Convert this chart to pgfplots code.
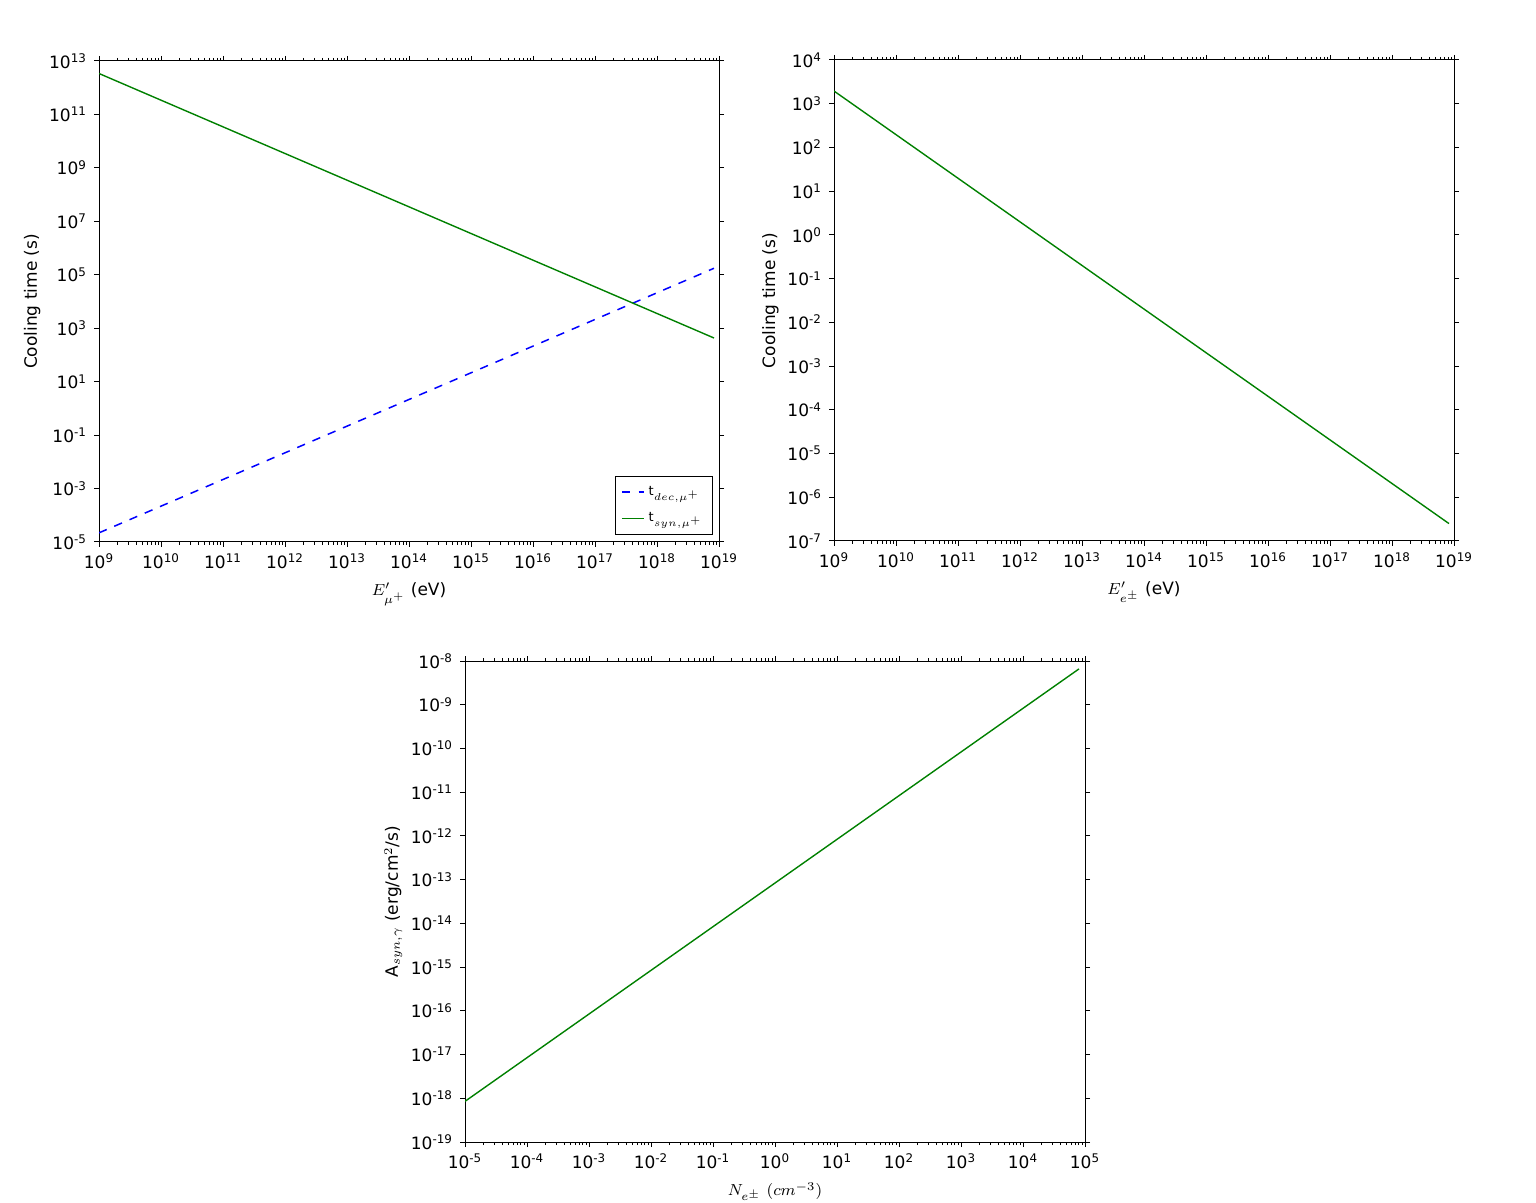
\documentclass[border=0pt]{standalone}
\usepackage{fontspec}
\setmainfont{DejaVu Sans}
\usepackage{pgfplots}
\pgfplotsset{compat=1.18}
\definecolor{mplgreen}{rgb}{0,0.5,0}
\definecolor{mplblue}{rgb}{0,0,1}
\newcommand{\tp}[1]{10\textsuperscript{#1}}
\pgfplotsset{
  myax/.style={
    scale only axis, width=310pt, height=240.5pt,
    axis line style={line width=0.5pt, black},
    tick align=outside, major tick length=2.5pt, minor tick length=1.5pt,
    every tick/.style={black, line width=0.5pt},
    yminorticks=false,
    ticklabel style={font=\fontsize{8.5}{10}\selectfont},
    label style={font=\fontsize{8.5}{10}\selectfont},
    ylabel style={yshift=-2.5pt},
  },
  gline/.style={color=mplgreen, line width=0.7pt, no marks},
}
\begin{document}
\begin{tikzpicture}
\useasboundingbox (0,0) rectangle (768pt,601.5pt);
% Panel 1
\begin{loglogaxis}[myax, at={(49.5pt,330.5pt)}, anchor=south west,
  xmin=1e9, xmax=1e19, ymin=1e-5, ymax=1e13,
  xtick={1e9,1e10,1e11,1e12,1e13,1e14,1e15,1e16,1e17,1e18,1e19},
  xticklabels={\tp{9},\tp{10},\tp{11},\tp{12},\tp{13},\tp{14},\tp{15},\tp{16},\tp{17},\tp{18},\tp{19}},
  ytick={1e-5,1e-3,1e-1,1e1,1e3,1e5,1e7,1e9,1e11,1e13},
  yticklabels={\tp{-5},\tp{-3},\tp{-1},\tp{1},\tp{3},\tp{5},\tp{7},\tp{9},\tp{11},\tp{13}},
  xlabel={$E'_{\mu^+}$ (eV)}, ylabel={Cooling time (s)},
  legend style={at={(rel axis cs:0.99,0.015)}, anchor=south east, draw=black, line width=0.5pt,
    font=\fontsize{6.5}{8}\selectfont, inner xsep=3pt, inner ysep=3pt, row sep=3pt},
  legend cell align=left,
  legend image code/.code={\draw[#1] (0pt,0pt) -- (11pt,0pt);},
]
\addplot[color=mplblue, line width=0.75pt, dash pattern=on 4.2pt off 4.1pt, no marks] coordinates {(1e9,2.2e-5) (8.3e18,1.75e5)};
\addlegendentry{t$_{dec,\mu^+}$}
\addplot[gline] coordinates {(1e9,3.4e12) (8.3e18,4.3e2)};
\addlegendentry{t$_{syn,\mu^+}$}
\end{loglogaxis}
% Panel 2
\begin{loglogaxis}[myax, at={(417pt,331pt)}, anchor=south west,
  xmin=1e9, xmax=1e19, ymin=1e-7, ymax=1e4,
  xtick={1e9,1e10,1e11,1e12,1e13,1e14,1e15,1e16,1e17,1e18,1e19},
  xticklabels={\tp{9},\tp{10},\tp{11},\tp{12},\tp{13},\tp{14},\tp{15},\tp{16},\tp{17},\tp{18},\tp{19}},
  ytick={1e-7,1e-6,1e-5,1e-4,1e-3,1e-2,1e-1,1e0,1e1,1e2,1e3,1e4},
  yticklabels={\tp{-7},\tp{-6},\tp{-5},\tp{-4},\tp{-3},\tp{-2},\tp{-1},\tp{0},\tp{1},\tp{2},\tp{3},\tp{4}},
  xlabel={$E'_{e^\pm}$ (eV)}, ylabel={Cooling time (s)},
]
\addplot[gline] coordinates {(1e9,1.95e3) (8.3e18,2.5e-7)};
\end{loglogaxis}
% Panel 3
\begin{loglogaxis}[myax, at={(232.5pt,30.5pt)}, anchor=south west,
  xmin=1e-5, xmax=1e5, ymin=1e-19, ymax=1e-8,
  xtick={1e-5,1e-4,1e-3,1e-2,1e-1,1e0,1e1,1e2,1e3,1e4,1e5},
  xticklabels={\tp{-5},\tp{-4},\tp{-3},\tp{-2},\tp{-1},\tp{0},\tp{1},\tp{2},\tp{3},\tp{4},\tp{5}},
  ytick={1e-19,1e-18,1e-17,1e-16,1e-15,1e-14,1e-13,1e-12,1e-11,1e-10,1e-9,1e-8},
  yticklabels={\tp{-19},\tp{-18},\tp{-17},\tp{-16},\tp{-15},\tp{-14},\tp{-13},\tp{-12},\tp{-11},\tp{-10},\tp{-9},\tp{-8}},
  xlabel={$N_{e^\pm}$ $(cm^{-3})$}, ylabel={A$_{syn,\gamma}$ (erg/cm$^2$/s)},
]
\addplot[gline] coordinates {(1e-5,8.5e-19) (8e4,6.6e-9)};
\end{loglogaxis}
\end{tikzpicture}
\end{document}
